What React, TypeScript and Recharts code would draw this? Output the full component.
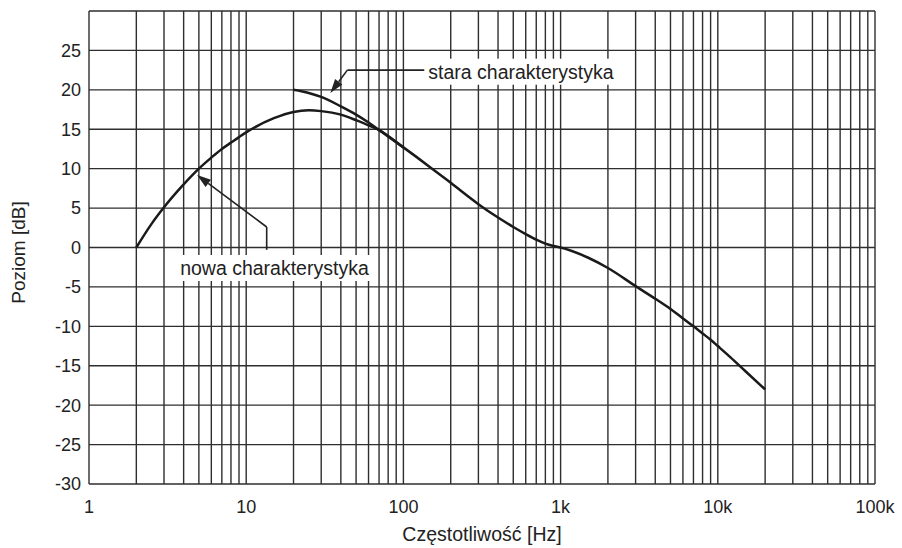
import { LineChart, Line, XAxis, YAxis, ReferenceLine, ReferenceDot } from "recharts"

// nowa charakterystyka
const nowaFreq = [2, 2.5, 3, 4, 5, 6, 7, 8, 9, 10, 15, 20, 25, 30, 40, 50, 60, 70, 100, 150, 200, 300, 400, 500, 600, 700, 800, 900, 1000, 1500, 2000, 3000, 4000, 5000, 6000, 7000, 8000, 9000, 10000, 12000, 15000, 20000]
const nowaDb = [0, 3.0, 5.1, 8.0, 10.0, 11.4, 12.5, 13.3, 14.0, 14.6, 16.4, 17.2, 17.4, 17.3, 16.85, 16.15, 15.5, 14.9, 12.7, 10.1, 8.2, 5.5, 3.8, 2.6, 1.7, 1.0, 0.5, 0.2, 0, -1.3, -2.6, -4.9, -6.5, -7.8, -9.0, -10.0, -10.9, -11.7, -12.5, -13.9, -15.7, -18.0]

// stara charakterystyka, until it joins the new one
const staraFreq = [20, 25, 30, 40, 50, 60, 70, 100]
const staraDb = [20.0, 19.6, 19.1, 17.9, 16.85, 15.85, 14.9, 12.7]

const xTicks = [1, 10, 100, 1000, 10000, 100000]
const xTickLabels = ["1", "10", "100", "1k", "10k", "100k"]
const yTicks = [-30, -25, -20, -15, -10, -5, 0, 5, 10, 15, 20, 25]
const yGrid = [-30, -25, -20, -15, -10, -5, 0, 5, 10, 15, 20, 25, 30]
const multipliers = [1, 2, 3, 4, 5, 6, 7, 8, 9]
const decades = [1, 10, 100, 1000, 10000]

const FONT = "'Liberation Sans', Arial, sans-serif"
const INK = "#222"
const GRID = "#2e2e2e"

const gridFreqs = [...decades.flatMap((d) => multipliers.map((m) => m * d)), 100000]

const nowaData = nowaFreq.map((f, i) => ({ f, db: nowaDb[i] }))
const staraData = staraFreq.map((f, i) => ({ f, db: staraDb[i] }))

const plainSeg = (p: any) => (
  <line x1={p.x1} y1={p.y1} x2={p.x2} y2={p.y2} stroke={INK} strokeWidth={1.6} />
)

const arrowSeg = (p: any) => {
  const dx = p.x2 - p.x1
  const dy = p.y2 - p.y1
  const len = Math.sqrt(dx * dx + dy * dy) || 1
  const ux = dx / len
  const uy = dy / len
  const bx = p.x2 - ux * 14
  const by = p.y2 - uy * 14
  const pts = `${p.x2},${p.y2} ${bx - uy * 4.5},${by + ux * 4.5} ${bx + uy * 4.5},${by - ux * 4.5}`
  return (
    <g>
      <line x1={p.x1} y1={p.y1} x2={bx} y2={by} stroke={INK} strokeWidth={1.6} />
      <polygon points={pts} fill={INK} />
    </g>
  )
}

const boxedText = (value: string, width: number) => (p: any) => (
  <g>
    <rect x={p.cx - 4} y={p.cy - 13} width={width} height={26} fill="#fff" />
    <text x={p.cx} y={p.cy} dominantBaseline="central" fontSize={19.5} fontFamily={FONT} fill={INK}>
      {value}
    </text>
  </g>
)

export default function App() {
  return (
    <div style={{ position: "absolute", left: 0, top: 0, background: "#fff" }}>
      <LineChart width={902} height={548} margin={{ top: 11, right: 27, bottom: 0, left: 0 }}>
        <XAxis
          dataKey="f"
          type="number"
          scale="log"
          domain={[1, 100000]}
          allowDataOverflow
          ticks={xTicks}
          tickFormatter={(v) => xTickLabels[xTicks.indexOf(v)] ?? `${v}`}
          height={64}
          axisLine={false}
          tickLine={false}
          tickMargin={10}
          tick={{ fontSize: 18, fill: INK, fontFamily: FONT }}
          label={({ viewBox }: any) => (
            <text
              x={viewBox.x + viewBox.width / 2}
              y={534}
              textAnchor="middle"
              dominantBaseline="central"
              fontSize={19.5}
              fontFamily={FONT}
              fill={INK}
            >
              Częstotliwość [Hz]
            </text>
          )}
        />
        <YAxis
          type="number"
          domain={[-30, 30]}
          ticks={yTicks}
          width={89}
          axisLine={false}
          tickLine={false}
          tick={{ fontSize: 18, fill: INK, fontFamily: FONT }}
          label={({ viewBox }: any) => {
            const cx = 18
            const cy = viewBox.y + viewBox.height / 2 + 5
            return (
              <text
                x={cx}
                y={cy}
                transform={`rotate(-90, ${cx}, ${cy})`}
                textAnchor="middle"
                dominantBaseline="central"
                fontSize={19}
                fontFamily={FONT}
                fill={INK}
              >
                Poziom [dB]
              </text>
            )
          }}
        />
        {gridFreqs.map((f) => (
          <ReferenceLine key={`vx${f}`} x={f} stroke={GRID} strokeWidth={1.4} />
        ))}
        {yGrid.map((y) => (
          <ReferenceLine key={`hy${y}`} y={y} stroke={GRID} strokeWidth={1.4} />
        ))}
        <ReferenceDot x={144} y={22.3} shape={boxedText("stara charakterystyka", 196)} />
        <ReferenceDot x={3.8} y={-2.6} shape={boxedText("nowa charakterystyka", 196)} />
        <ReferenceLine segment={[{ x: 138, y: 22.5 }, { x: 44, y: 22.5 }]} shape={plainSeg} />
        <ReferenceLine segment={[{ x: 44, y: 22.5 }, { x: 34.3, y: 19.6 }]} shape={arrowSeg} />
        <ReferenceLine segment={[{ x: 13.5, y: -0.3 }, { x: 13.5, y: 2.6 }]} shape={plainSeg} />
        <ReferenceLine segment={[{ x: 13.5, y: 2.6 }, { x: 4.87, y: 9.2 }]} shape={arrowSeg} />
        <Line
          data={staraData}
          dataKey="db"
          type="monotone"
          stroke="#1a1a1a"
          strokeWidth={2.5}
          dot={false}
          isAnimationActive={false}
        />
        <Line
          data={nowaData}
          dataKey="db"
          type="monotone"
          stroke="#1a1a1a"
          strokeWidth={2.5}
          dot={false}
          isAnimationActive={false}
        />
      </LineChart>
    </div>
  )
}
